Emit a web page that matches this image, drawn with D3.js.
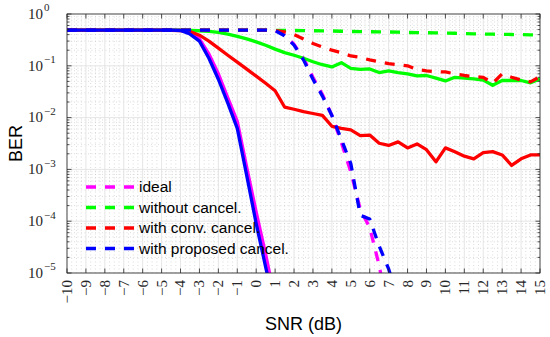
<!DOCTYPE html>
<html lang="en">
<head>
<meta charset="UTF-8">
<title>BER vs SNR</title>
<script src="https://d3js.org/d3.v7.min.js"></script>
<style>
  body { margin: 0; background: #fff; }
  svg { display: block; }
  .tick-label { font-family: "Liberation Serif", "DejaVu Serif", serif; fill: #262626; }
  .axis-title { font-family: "Liberation Sans", Arial, sans-serif; font-size: 18px; fill: #000; }
  .legend text { font-family: "Liberation Sans", Arial, sans-serif; font-size: 15.5px; fill: #000; }
</style>
</head>
<body>
<svg width="550" height="337"></svg>
<script>
// SNR grid (dB), 0.5 dB steps
const snr = [-10, -9.5, -9, -8.5, -8, -7.5, -7, -6.5, -6, -5.5, -5, -4.5, -4, -3.5, -3, -2.5, -2, -1.5, -1, -0.5,
  0, 0.5, 1, 1.5, 2, 2.5, 3, 3.5, 4, 4.5, 5, 5.5, 6, 6.5, 7, 7.5, 8, 8.5, 9, 9.5,
  10, 10.5, 11, 11.5, 12, 12.5, 13, 13.5, 14, 14.5, 15];

// solid curves
const idealSolid = [0.49, 0.49, 0.49, 0.49, 0.49, 0.49, 0.49, 0.49, 0.49, 0.49, 0.49, 0.49,
  0.485, 0.44, 0.33, 0.17, 0.07, 0.024, 0.0085, 0.0011, 1.5e-4, 2.3e-5, 3e-6,
  null, null, null, null, null, null, null, null, null, null, null, null, null, null,
  null, null, null, null, null, null, null, null, null, null, null, null, null, null];
const withoutSolid = [0.49, 0.49, 0.49, 0.49, 0.49, 0.49, 0.49, 0.49, 0.49, 0.49, 0.49, 0.49, 0.49,
  0.485, 0.475, 0.46, 0.44, 0.41, 0.37, 0.33, 0.29, 0.25, 0.21, 0.18, 0.16, 0.14, 0.12, 0.105,
  0.095, 0.115, 0.089, 0.085, 0.087, 0.074, 0.08, 0.074, 0.07, 0.064, 0.065, 0.058,
  0.051, 0.06, 0.058, 0.056, 0.053, 0.042, 0.052, 0.052, 0.052, 0.047, 0.056];
const convSolid = [0.49, 0.49, 0.49, 0.49, 0.49, 0.49, 0.49, 0.49, 0.49, 0.49, 0.49,
  0.485, 0.48, 0.46, 0.39, 0.30, 0.22, 0.16, 0.118, 0.086, 0.063, 0.046, 0.033, 0.016, 0.0145,
  0.013, 0.012, 0.011, 0.0068, 0.0062, 0.0058, 0.0045, 0.0046, 0.0032, 0.0029, 0.0034, 0.0026,
  0.0031, 0.0024, 0.0014, 0.0026, 0.0022, 0.0018, 0.0016, 0.0021, 0.0022, 0.0019, 0.0012,
  0.0016, 0.0019, 0.0019];
const proposedSolid = [0.49, 0.49, 0.49, 0.49, 0.49, 0.49, 0.49, 0.49, 0.49, 0.49, 0.49, 0.49,
  0.48, 0.41, 0.30, 0.14, 0.055, 0.019, 0.0062, 7.6e-4, 9e-5, 1.3e-5, 2e-6,
  null, null, null, null, null, null, null, null, null, null, null, null, null, null,
  null, null, null, null, null, null, null, null, null, null, null, null, null, null];

// dashed curves
const idealDashed = [0.49, 0.49, 0.49, 0.49, 0.49, 0.49, 0.49, 0.49, 0.49, 0.49, 0.49, 0.49,
  0.49, 0.49, 0.49, 0.49, 0.49, 0.49, 0.49, 0.49, 0.49, 0.49, 0.49,
  0.39, 0.26, 0.14, 0.06, 0.028, 0.011, 0.0033, 9e-4, 1.7e-4, 7.5e-5, 1.4e-5, 1.5e-6,
  null, null, null, null, null, null, null, null, null, null, null, null, null, null, null, null];
const withoutDashed = [0.49, 0.49, 0.49, 0.49, 0.49, 0.49, 0.49, 0.49, 0.49, 0.49, 0.49,
  0.49, 0.49, 0.49, 0.49, 0.49, 0.49, 0.49, 0.49, 0.49, 0.49,
  0.488, 0.485, 0.483, 0.48, 0.478, 0.475, 0.472, 0.47, 0.465, 0.46, 0.458, 0.455, 0.452,
  0.45, 0.445, 0.44, 0.437, 0.435, 0.432, 0.43, 0.425, 0.42, 0.415, 0.41, 0.407, 0.405,
  0.402, 0.40, 0.395, 0.39];
const convDashed = [0.49, 0.49, 0.49, 0.49, 0.49, 0.49, 0.49, 0.49, 0.49, 0.49, 0.49,
  0.49, 0.49, 0.49, 0.49, 0.49, 0.49, 0.49, 0.49, 0.49, 0.49, 0.49,
  0.48, 0.45, 0.40, 0.33, 0.27, 0.23, 0.20, 0.18, 0.155, 0.145, 0.13, 0.12, 0.11, 0.105,
  0.10, 0.085, 0.08, 0.077, 0.076, 0.07, 0.065, 0.062, 0.06, 0.046, 0.07, 0.06, 0.053,
  0.049, 0.062];
const proposedDashed = [0.49, 0.49, 0.49, 0.49, 0.49, 0.49, 0.49, 0.49, 0.49, 0.49, 0.49,
  0.49, 0.49, 0.49, 0.49, 0.49, 0.49, 0.49, 0.49, 0.49, 0.49, 0.49,
  0.48, 0.38, 0.25, 0.13, 0.055, 0.026, 0.011, 0.0038, 0.0013, 1.3e-4, 1.1e-4, 3.3e-5,
  1.2e-5, 3e-6,
  null, null, null, null, null, null, null, null, null, null, null, null, null, null, null];

const legendLabels = ["ideal", "without cancel.", "with conv. cancel.", "with proposed cancel."];
const colors = ["#ff00ff", "#00ff00", "#ff0000", "#0000ff"];
const xTicks = d3.range(-10, 16);
const yTicks = [1e-5, 1e-4, 1e-3, 1e-2, 1e-1, 1];
const yTickExp = ["\u22125", "\u22124", "\u22123", "\u22122", "\u22121", "0"];

const svg = d3.select("svg");
const margin = {top: 14, right: 10, bottom: 64, left: 67};
const W = 550, H = 337;

const x = d3.scaleLinear().domain([-10, 15]).range([margin.left, W - margin.right]);
const y = d3.scaleLog().domain([1e-5, 1]).range([H - margin.bottom, margin.top]);

const x0 = x.range()[0], x1 = x.range()[1];
const y0 = y.range()[0], y1 = y.range()[1];

// minor grid values
const yMinor = [];
for (let e = -5; e < 0; e++) for (let m = 2; m <= 9; m++) yMinor.push(m * Math.pow(10, e));
const xMinor = [];
xTicks.slice(0, -1).forEach(t => { xMinor.push(t + 0.25, t + 0.5, t + 0.75); });

const grid = svg.append("g");
grid.selectAll(".ymin").data(yMinor).enter().append("line")
  .attr("x1", x0).attr("x2", x1).attr("y1", d => y(d)).attr("y2", d => y(d))
  .attr("stroke", "#c4c4c4").attr("stroke-width", 0.6).attr("stroke-dasharray", "1,2.5");
grid.selectAll(".xmin").data(xMinor).enter().append("line")
  .attr("y1", y0).attr("y2", y1).attr("x1", d => x(d)).attr("x2", d => x(d))
  .attr("stroke", "#c4c4c4").attr("stroke-width", 0.6).attr("stroke-dasharray", "1,2.5");
grid.selectAll(".xmaj").data(xTicks).enter().append("line")
  .attr("y1", y0).attr("y2", y1).attr("x1", d => x(d)).attr("x2", d => x(d))
  .attr("stroke", "#dedede").attr("stroke-width", 0.8);
grid.selectAll(".ymaj").data(yTicks).enter().append("line")
  .attr("x1", x0).attr("x2", x1).attr("y1", d => y(d)).attr("y2", d => y(d))
  .attr("stroke", "#dedede").attr("stroke-width", 0.8);

// curves
svg.append("clipPath").attr("id", "clip").append("rect")
  .attr("x", x0).attr("y", y1).attr("width", x1 - x0).attr("height", y0 - y1);

const series = [
  {vals: idealSolid, c: 0, dash: null},
  {vals: idealDashed, c: 0, dash: "10,9"},
  {vals: withoutSolid, c: 1, dash: null},
  {vals: withoutDashed, c: 1, dash: "10,9"},
  {vals: convSolid, c: 2, dash: null},
  {vals: convDashed, c: 2, dash: "10,9"},
  {vals: proposedSolid, c: 3, dash: null},
  {vals: proposedDashed, c: 3, dash: "10,9"}
];

const line = d3.line()
  .defined(d => d[1] != null)
  .x(d => x(d[0]))
  .y(d => y(d[1]));

const plot = svg.append("g").attr("clip-path", "url(#clip)");
series.forEach(s => {
  plot.append("path")
    .datum(snr.map((v, i) => [v, s.vals[i]]))
    .attr("fill", "none")
    .attr("stroke", colors[s.c])
    .attr("stroke-width", 3.3)
    .attr("stroke-linejoin", "round")
    .attr("stroke-dasharray", s.dash)
    .attr("d", line);
});

// box and ticks
const axisColor = "#262626";
svg.append("rect").attr("x", x0).attr("y", y1).attr("width", x1 - x0).attr("height", y0 - y1)
  .attr("fill", "none").attr("stroke", axisColor).attr("stroke-width", 0.8);

const ticks = svg.append("g").attr("stroke", axisColor).attr("stroke-width", 0.8);
xTicks.forEach(t => {
  ticks.append("line").attr("x1", x(t)).attr("x2", x(t)).attr("y1", y0).attr("y2", y0 - 4.5);
  ticks.append("line").attr("x1", x(t)).attr("x2", x(t)).attr("y1", y1).attr("y2", y1 + 4.5);
});
yTicks.forEach(t => {
  ticks.append("line").attr("y1", y(t)).attr("y2", y(t)).attr("x1", x0).attr("x2", x0 + 4.5);
  ticks.append("line").attr("y1", y(t)).attr("y2", y(t)).attr("x1", x1).attr("x2", x1 - 4.5);
});
yMinor.forEach(t => {
  ticks.append("line").attr("y1", y(t)).attr("y2", y(t)).attr("x1", x0).attr("x2", x0 + 2.5);
  ticks.append("line").attr("y1", y(t)).attr("y2", y(t)).attr("x1", x1).attr("x2", x1 - 2.5);
});

// x tick labels, rotated
svg.selectAll(".xlab").data(xTicks).enter().append("text")
  .attr("class", "tick-label")
  .attr("font-size", 15)
  .attr("text-anchor", "end")
  .attr("dy", "0.33em")
  .attr("transform", d => `translate(${x(d)},${y0 + 7}) rotate(-90)`)
  .text(d => d < 0 ? "\u2212" + Math.abs(d) : String(d));

// y tick labels 10^k
yTicks.forEach((t, i) => {
  const txt = svg.append("text").attr("class", "tick-label")
    .attr("x", 28).attr("y", y(t) + 4.8).attr("font-size", 15);
  txt.append("tspan").text("10");
  txt.append("tspan").attr("dy", -7.5).attr("dx", 1).attr("font-size", 11).text(yTickExp[i]);
});

// axis titles
svg.append("text").attr("class", "axis-title")
  .attr("x", (x0 + x1) / 2).attr("y", 330).attr("text-anchor", "middle").text("SNR (dB)");
svg.append("text").attr("class", "axis-title")
  .attr("transform", `translate(22,${(y0 + y1) / 2}) rotate(-90)`)
  .attr("text-anchor", "middle").text("BER");

// legend
const legend = svg.append("g").attr("class", "legend");
legendLabels.forEach((lab, i) => {
  const ly = 187 + i * 20.5;
  legend.append("line").attr("x1", 86).attr("x2", 136).attr("y1", ly).attr("y2", ly)
    .attr("stroke", colors[i]).attr("stroke-width", 3.3).attr("stroke-dasharray", "10,9");
  legend.append("text").attr("x", 139).attr("y", ly).attr("dy", "0.35em").text(lab);
});
</script>
</body>
</html>
